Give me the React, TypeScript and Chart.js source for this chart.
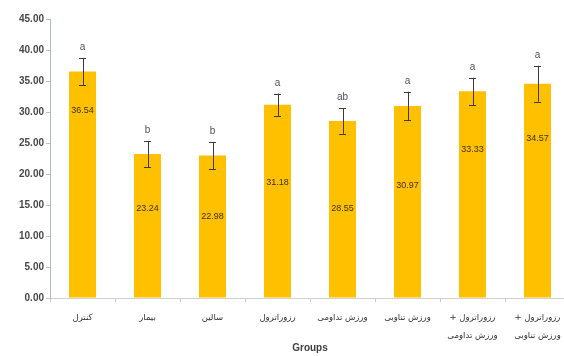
import React, { useEffect, useRef } from 'react';
import { Chart, registerables } from 'chart.js';

Chart.register(...registerables);

const categories: (string | string[])[] = [
  'کنترل',
  'بیمار',
  'سالین',
  'رزوراترول',
  'ورزش تداومی',
  'ورزش تناوبی',
  ['+ رزوراترول', 'ورزش تداومی'],
  ['+ رزوراترول', 'ورزش تناوبی'],
];
const means = [36.54, 23.24, 22.98, 31.18, 28.55, 30.97, 33.33, 34.57];
const errors = [2.2, 2.1, 2.2, 1.8, 2.05, 2.3, 2.2, 2.9];
const letters = ['a', 'b', 'b', 'a', 'ab', 'a', 'a', 'a'];
// value (in axis units) where each mean label is written inside its bar
const labelAt = [30.3, 14.5, 13.1, 18.7, 14.5, 18.2, 23.9, 25.8];
const yMin = 0;
const yMax = 45;
const yStep = 5;

const annotatePlugin = {
  id: 'annotate',
  afterDatasetsDraw(chart: any) {
    const ctx = chart.ctx;
    const meta = chart.getDatasetMeta(0);
    const y = chart.scales.y;
    ctx.save();
    meta.data.forEach((bar: any, i: number) => {
      const x = bar.x;
      const top = y.getPixelForValue(means[i] + errors[i]);
      const bot = y.getPixelForValue(means[i] - errors[i]);
      const cap = 3.5;
      ctx.strokeStyle = '#3a3a3a';
      ctx.lineWidth = 1;
      ctx.beginPath();
      ctx.moveTo(Math.round(x) + 0.5, top);
      ctx.lineTo(Math.round(x) + 0.5, bot);
      ctx.moveTo(x - cap, Math.round(top) + 0.5);
      ctx.lineTo(x + cap, Math.round(top) + 0.5);
      ctx.moveTo(x - cap, Math.round(bot) + 0.5);
      ctx.lineTo(x + cap, Math.round(bot) + 0.5);
      ctx.stroke();

      ctx.fillStyle = '#4e5068';
      ctx.font = '10px "Liberation Sans", Arial, sans-serif';
      ctx.textAlign = 'center';
      ctx.textBaseline = 'alphabetic';
      ctx.fillText(letters[i], x, top - 8);

      ctx.fillStyle = '#3a3020';
      ctx.font = '9px "Liberation Sans", Arial, sans-serif';
      ctx.textBaseline = 'middle';
      ctx.fillText(means[i].toFixed(2), x, y.getPixelForValue(labelAt[i]));
    });
    ctx.restore();
  },
};

export default function App() {
  const ref = useRef<HTMLCanvasElement>(null);
  useEffect(() => {
    document.body.style.margin = '0';
    document.body.style.overflow = 'hidden';
    const chart = new Chart(ref.current!, {
      type: 'bar',
      data: {
        labels: categories as any,
        datasets: [
          {
            data: means,
            backgroundColor: '#FFC000',
            borderWidth: 0,
            barPercentage: 0.415,
            categoryPercentage: 1,
          },
        ],
      },
      options: {
        responsive: false,
        animation: false,
        devicePixelRatio: 1,
        layout: { padding: { top: 19, right: 0, bottom: 0, left: 0 } },
        plugins: { legend: { display: false }, tooltip: { enabled: false } },
        scales: {
          x: {
            offset: true,
            grid: {
              display: true,
              drawOnChartArea: false,
              drawTicks: true,
              tickLength: 4,
              color: '#c8c8c8',
              offset: true,
            },
            border: { display: true, color: '#d0d0d0', width: 1 },
            ticks: {
              autoSkip: false,
              maxRotation: 0,
              minRotation: 0,
              padding: 7,
              color: '#333333',
              font: { family: '"DejaVu Sans", sans-serif', size: 8.5, lineHeight: 2.1 },
            },
            title: {
              display: true,
              text: 'Groups',
              color: '#404040',
              font: { family: '"Liberation Sans", Arial, sans-serif', size: 10, weight: 'bold' },
              padding: { top: 0, bottom: 2 },
            },
            afterFit: (s: any) => {
              s.height = 58;
            },
          },
          y: {
            min: yMin,
            max: yMax,
            grid: {
              display: true,
              drawOnChartArea: false,
              drawTicks: true,
              tickLength: 4,
              color: '#b8c0d4',
            },
            border: { display: true, color: '#b0b8d0', width: 1 },
            ticks: {
              stepSize: yStep,
              padding: 2,
              color: '#484848',
              font: { family: '"Liberation Sans", Arial, sans-serif', size: 10, weight: 'bold' },
              callback: (v: any) => Number(v).toFixed(2),
            },
            afterFit: (s: any) => {
              s.width = 50;
            },
          },
        },
      },
      plugins: [annotatePlugin],
    });
    return () => chart.destroy();
  }, []);
  return (
    <div style={{ position: 'fixed', left: 0, top: 0, width: 564, height: 356, overflow: 'hidden', background: '#fff' }}>
      <canvas ref={ref} width={570} height={356} style={{ display: 'block', width: 570, height: 356 }} />
    </div>
  );
}
